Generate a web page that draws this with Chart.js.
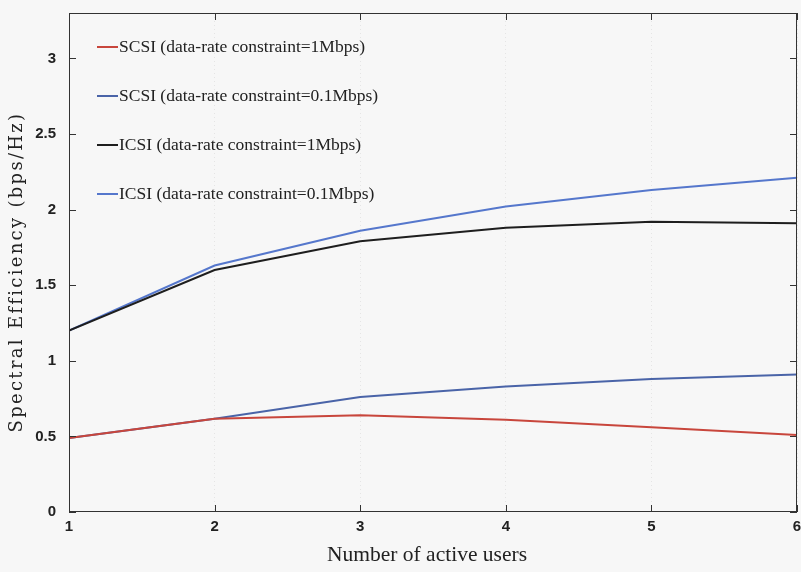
<!DOCTYPE html>
<html>
<head>
<meta charset="utf-8">
<script src="https://cdn.jsdelivr.net/npm/chart.js@4.4.1/dist/chart.umd.min.js"></script>
<style>
  html, body { margin: 0; padding: 0; background: #f7f7f7; }
  #wrap { width: 801px; height: 572px; }
</style>
</head>
<body>
<div id="wrap"><canvas id="c" width="801" height="572"></canvas></div>
<script>
const users = [1, 2, 3, 4, 5, 6];
const scsi1 = [0.49, 0.616, 0.64, 0.61, 0.56, 0.51];
const scsi01 = [0.49, 0.616, 0.76, 0.83, 0.88, 0.91];
const icsi1 = [1.2, 1.60, 1.79, 1.88, 1.92, 1.91];
const icsi01 = [1.2, 1.63, 1.86, 2.02, 2.13, 2.21];
const yTicks = [0, 0.5, 1, 1.5, 2, 2.5, 3];
const seriesLabels = [
  'SCSI (data-rate constraint=1Mbps)',
  'SCSI (data-rate constraint=0.1Mbps)',
  'ICSI (data-rate constraint=1Mbps)',
  'ICSI (data-rate constraint=0.1Mbps)'
];
const xTitle = 'Number of active users';
const yTitle = 'Spectral Efficiency (bps/Hz)';
const colors = ['#c8463c', '#4a64a8', '#1e1e1e', '#5577cc'];
const seriesData = [scsi1, scsi01, icsi1, icsi01];

const tickFont = { family: "'Liberation Sans Narrow', 'Liberation Sans', sans-serif", size: 15, weight: 'bold' };
const serif = "'Liberation Serif', 'DejaVu Serif', serif";

const datasets = seriesData.map((d, i) => ({
  label: seriesLabels[i],
  data: users.map((u, j) => ({ x: u, y: d[j] })),
  borderColor: colors[i],
  backgroundColor: colors[i],
  borderWidth: 2,
  pointRadius: 0,
  tension: 0,
  fill: false
}));

const boxPlugin = {
  id: 'boxTicks',
  afterDraw(chart) {
    const { ctx, chartArea: a, scales: { x, y } } = chart;
    ctx.save();
    ctx.strokeStyle = '#333';
    ctx.lineWidth = 1;
    ctx.strokeRect(a.left + 0.5, a.top + 0.5, a.right - a.left - 1, a.bottom - a.top - 1);
    const L = 7;
    ctx.beginPath();
    x.ticks.forEach(t => {
      const px = Math.round(x.getPixelForValue(t.value)) + 0.5;
      ctx.moveTo(px, a.bottom); ctx.lineTo(px, a.bottom - L);
      ctx.moveTo(px, a.top); ctx.lineTo(px, a.top + L);
    });
    y.ticks.forEach(t => {
      const py = Math.round(y.getPixelForValue(t.value)) + 0.5;
      ctx.moveTo(a.left, py); ctx.lineTo(a.left + L, py);
      ctx.moveTo(a.right, py); ctx.lineTo(a.right - L, py);
    });
    ctx.stroke();
    // legend
    ctx.font = '17.5px ' + serif;
    ctx.textBaseline = 'middle';
    ctx.textAlign = 'left';
    chart.data.datasets.forEach((ds, i) => {
      const ly = a.top + 34 + i * 49;
      const lx = a.left + 28;
      ctx.strokeStyle = ds.borderColor;
      ctx.lineWidth = 2;
      ctx.beginPath();
      ctx.moveTo(lx, ly); ctx.lineTo(lx + 21, ly);
      ctx.stroke();
      ctx.fillStyle = '#222';
      ctx.fillText(ds.label, lx + 22, ly);
    });
    // x title
    ctx.font = '21.5px ' + serif;
    ctx.textAlign = 'center';
    ctx.textBaseline = 'middle';
    ctx.fillStyle = '#222';
    ctx.fillText(xTitle, a.left + 358, 555);
    // y title
    ctx.save();
    ctx.translate(17, 272);
    ctx.rotate(-Math.PI / 2);
    ctx.font = "18px 'DejaVu Serif', serif";
    if ('letterSpacing' in ctx) ctx.letterSpacing = '2.3px';
    ctx.textAlign = 'center';
    ctx.textBaseline = 'middle';
    ctx.fillStyle = '#222';
    ctx.fillText(yTitle, 0, 0);
    ctx.restore();
    ctx.restore();
  }
};

new Chart(document.getElementById('c'), {
  type: 'line',
  data: { datasets },
  plugins: [boxPlugin],
  options: {
    responsive: false,
    animation: false,
    layout: { padding: { top: 13, right: 4, left: 0, bottom: 0 } },
    plugins: { legend: { display: false }, tooltip: { enabled: false } },
    scales: {
      x: {
        type: 'linear',
        min: 1, max: 6,
        afterBuildTicks(s) { s.ticks = users.map(v => ({ value: v })); },
        afterFit(s) { s.height = 60; s.paddingRight = 0; s.paddingLeft = 0; },
        grid: { color: 'rgba(0,0,0,0.07)', drawTicks: false, tickLength: 0 },
        border: { display: false, dash: [1, 3] },
        ticks: { font: tickFont, color: '#222', padding: 6, callback: v => String(v) },
        title: { display: false }
      },
      y: {
        type: 'linear',
        min: 0, max: 3.3,
        afterBuildTicks(s) { s.ticks = yTicks.map(v => ({ value: v })); },
        afterFit(s) { s.width = 69; s.paddingTop = 0; s.paddingBottom = 0; },
        grid: { display: false },
        border: { display: false },
        ticks: { font: tickFont, color: '#222', padding: 5, callback: v => String(v) },
        title: { display: false }
      }
    }
  }
});
</script>
</body>
</html>
